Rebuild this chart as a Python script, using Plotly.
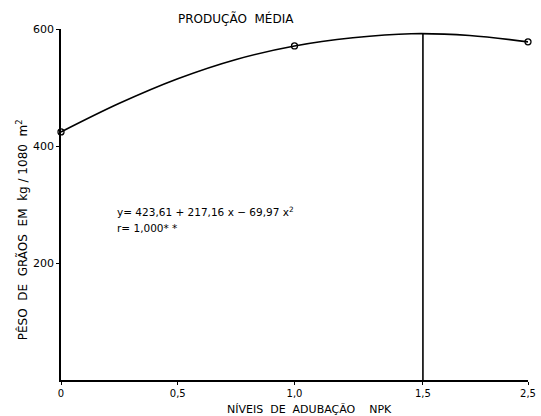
import plotly.graph_objects as go

# Observed points (open circles)
obs_x = [0.0, 1.0, 2.0]
obs_y = [424, 571, 578]

# Fitted curve, values
curve_x = [0.0, 0.25, 0.5, 0.75, 1.0, 1.25, 1.5, 1.75, 2.0]
curve_y = [424, 473, 515, 548, 571, 585, 592, 589, 578]

# Vertical line at the maximum
vline_x = [1.55, 1.55]
vline_y = [0, 592]

x_tickvals = [0.0, 0.5, 1.0, 1.55, 2.0]
x_ticktext = ["0", "0,5", "1,0", "1,5", "2,5"]
y_tickvals = [200, 400, 600]
y_ticktext = ["200", "400", "600"]

FONT = "DejaVu Sans"

fig = go.Figure()
fig.add_trace(go.Scatter(x=curve_x, y=curve_y, mode="lines",
                         line=dict(color="black", width=1.6, shape="spline"),
                         hoverinfo="skip", showlegend=False))
fig.add_trace(go.Scatter(x=vline_x, y=vline_y, mode="lines",
                         line=dict(color="black", width=1.6),
                         showlegend=False))
fig.add_trace(go.Scatter(x=obs_x, y=obs_y, mode="markers",
                         marker=dict(symbol="circle-open", size=6, color="black",
                                     line=dict(width=1.3)),
                         cliponaxis=False, showlegend=False))

fig.update_layout(
    width=541, height=416,
    margin=dict(l=61, r=13, t=29, b=36, autoexpand=False),
    plot_bgcolor="white", paper_bgcolor="white",
    font=dict(family=FONT, size=10, color="black"),
    showlegend=False,
    xaxis=dict(range=[0, 2], tickvals=x_tickvals, ticktext=x_ticktext,
               automargin=False,
               showgrid=False, zeroline=False, showline=True, linecolor="black",
               linewidth=1.6, ticks="outside", ticklen=3, tickcolor="black",
               tickfont=dict(family=FONT, size=10, color="black")),
    yaxis=dict(range=[0, 600], tickvals=y_tickvals, ticktext=y_ticktext,
               automargin=False,
               showgrid=False, zeroline=False, showline=True, linecolor="black",
               linewidth=1.6, ticks="outside", ticklen=3, tickcolor="black",
               tickfont=dict(family=FONT, size=11, color="black")),
    annotations=[
        dict(text="PRODUÇÃO  MÉDIA", xref="paper", yref="paper",
             x=(236 - 61) / 467, y=1.0, xanchor="center", yanchor="middle",
             yshift=11, showarrow=False,
             font=dict(family=FONT, size=12, color="black")),
        dict(text="PÊSO  DE  GRÃOS  EM  kg / 1080  m<sup>2</sup>", xref="paper",
             yref="paper", x=-0.083, y=(380 - 230) / 351, xanchor="center",
             yanchor="middle", textangle=-90, showarrow=False,
             font=dict(family=FONT, size=12, color="black")),
        dict(text="NÍVEIS  DE  ADUBAÇÃO    NPK", xref="paper", yref="paper",
             x=(309 - 61) / 467, y=0, xanchor="center", yanchor="middle",
             yshift=-29, showarrow=False,
             font=dict(family=FONT, size=11, color="black")),
        dict(text="y= 423,61 + 217,16 x − 69,97 x<sup>2</sup>", xref="x", yref="y",
             x=0.232, y=288, xanchor="left", yanchor="middle", showarrow=False,
             font=dict(family=FONT, size=10.5, color="black")),
        dict(text="r= 1,000* *", xref="x", yref="y", x=0.232, y=260,
             xanchor="left", yanchor="middle", showarrow=False,
             font=dict(family=FONT, size=10.5, color="black")),
    ],
)

fig.write_html("out.html",
               config={"displayModeBar": False},
               post_script="document.body.style.margin='0px';"
                           "document.body.style.overflow='hidden';")
